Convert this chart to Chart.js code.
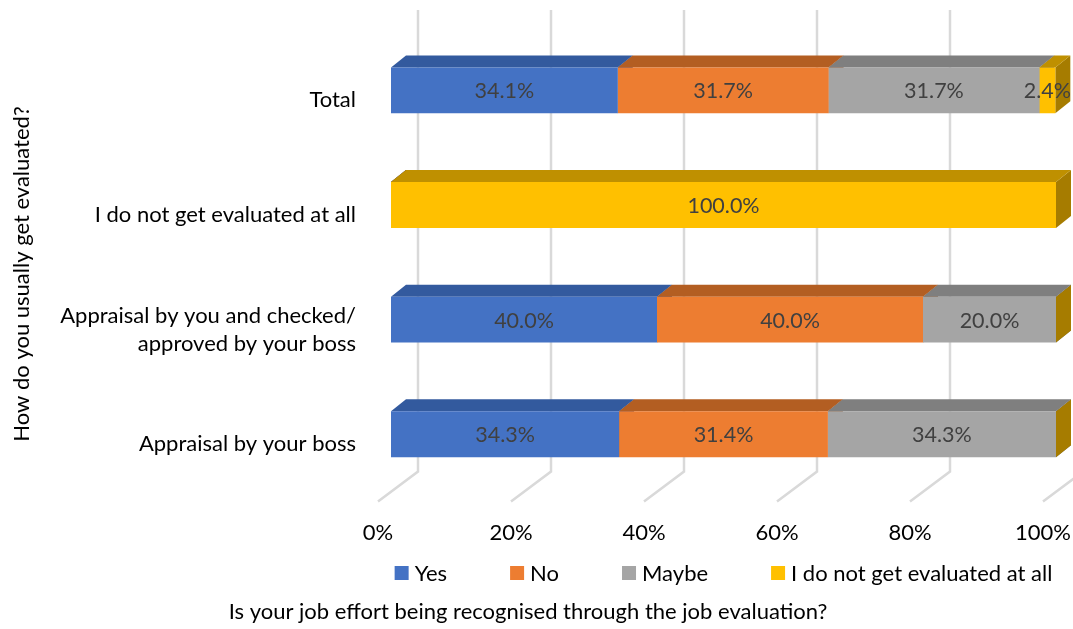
<!DOCTYPE html>
<html>
<head>
<meta charset="utf-8">
<title>Job evaluation survey</title>
<script src="https://cdn.jsdelivr.net/npm/chart.js@4.4.1/dist/chart.umd.min.js"></script>
<style>
  html, body { margin: 0; padding: 0; background: #fff; }
</style>
</head>
<body>
<canvas id="evalChart" width="1073" height="629"></canvas>
<script>
// categories, top to bottom
const categories = [
    'Total',
    'I do not get evaluated at all',
    ['Appraisal by you and checked/', 'approved by your boss'],
    'Appraisal by your boss'
];

// answers in percent, one array per series
const yesValues = [34.1, 0, 40.0, 34.3];
const noValues = [31.7, 0, 40.0, 31.4];
const maybeValues = [31.7, 0, 20.0, 34.3];
const notEvaluatedValues = [2.4, 100.0, 0, 0];

const seriesNames = ['Yes', 'No', 'Maybe', 'I do not get evaluated at all'];
const xTicks = [0, 20, 40, 60, 80, 100];

const FONT = "Lato, 'Liberation Sans', sans-serif";
const FONT_SIZE = 22;

// front / top / side shades for each series
const frontColors = ['#4472C4', '#ED7D31', '#A5A5A5', '#FFC000'];
const topColors = ['#335A9E', '#B35E22', '#7F7F7F', '#BF9000'];
const sideColors = ['#2E5190', '#A0541E', '#737373', '#A67C00'];

// 3d depth of the bars and of the back wall
const DX = 15, DY = -12;
const WALL_DX = 27, FLOOR_DX = -13;

function poly(ctx, pts, color) {
    ctx.beginPath();
    ctx.moveTo(pts[0][0], pts[0][1]);
    for (let i = 1; i < pts.length; i++) ctx.lineTo(pts[i][0], pts[i][1]);
    ctx.closePath();
    ctx.fillStyle = color;
    ctx.fill();
}

// back wall grid + bar tops/sides, drawn before the flat bar fronts
const depthPlugin = {
    id: 'depth',
    beforeDatasetsDraw(chart) {
        const ctx = chart.ctx;
        const xs = chart.scales.x;
        const area = chart.chartArea;

        ctx.save();
        ctx.strokeStyle = '#d9d9d9';
        ctx.lineWidth = 2.5;
        xTicks.forEach(v => {
            const p = xs.getPixelForValue(v);
            ctx.beginPath();
            ctx.moveTo(p + WALL_DX, area.top - 23);
            ctx.lineTo(p + WALL_DX, area.bottom - 20);
            ctx.lineTo(p + FLOOR_DX, area.bottom + 10);
            ctx.stroke();
        });

        const bars = [];
        chart.data.datasets.forEach((ds, i) => {
            chart.getDatasetMeta(i).data.forEach(el => {
                const b = el.getProps(['x', 'base', 'y', 'height'], true);
                bars.push({ i, x0: Math.min(b.x, b.base), x1: Math.max(b.x, b.base),
                    top: b.y - b.height / 2, bottom: b.y + b.height / 2 });
            });
        });

        bars.forEach(b => {
            poly(ctx, [[b.x1, b.top], [b.x1 + DX, b.top + DY], [b.x1 + DX, b.bottom + DY], [b.x1, b.bottom]], sideColors[b.i]);
        });
        bars.forEach(b => {
            if (b.x1 - b.x0 < 0.5) return;
            poly(ctx, [[b.x0, b.top], [b.x1, b.top], [b.x1 + DX, b.top + DY], [b.x0 + DX, b.top + DY]], topColors[b.i]);
        });
        ctx.restore();
    },

    // value labels on the bar fronts
    afterDatasetsDraw(chart) {
        const ctx = chart.ctx;
        ctx.save();
        ctx.font = '21.5px ' + FONT;
        ctx.fillStyle = '#404040';
        ctx.textAlign = 'center';
        ctx.textBaseline = 'middle';
        chart.data.datasets.forEach((ds, i) => {
            chart.getDatasetMeta(i).data.forEach((el, j) => {
                const v = ds.data[j];
                if (!v) return;
                const b = el.getProps(['x', 'base', 'y'], true);
                ctx.fillText(v.toFixed(1) + '%', (b.x + b.base) / 2, b.y + 1);
            });
        });
        ctx.restore();
    },

    afterDraw(chart) {
        const ctx = chart.ctx;
        const area = chart.chartArea;
        ctx.save();
        ctx.font = FONT_SIZE + 'px ' + FONT;
        ctx.fillStyle = '#000';

        // vertical axis question
        ctx.save();
        ctx.translate(22, 274);
        ctx.rotate(-Math.PI / 2);
        ctx.textAlign = 'center';
        ctx.textBaseline = 'middle';
        ctx.fillText('How do you usually get evaluated?', 0, 0);
        ctx.restore();

        // legend row between the axis labels and the axis question
        const box = 14, gap = 6, spacing = 63, y = 573;
        const widths = seriesNames.map(n => ctx.measureText(n).width);
        const total = widths.reduce((a, w) => a + box + gap + w, 0) + spacing * (seriesNames.length - 1);
        let x = (area.left + area.right) / 2 - total / 2;
        ctx.textBaseline = 'middle';
        ctx.textAlign = 'left';
        seriesNames.forEach((n, i) => {
            ctx.fillStyle = frontColors[i];
            ctx.fillRect(x, y - box / 2, box, box);
            ctx.fillStyle = '#000';
            ctx.fillText(n, x + box + gap, y + 1);
            x += box + gap + widths[i] + spacing;
        });
        ctx.restore();
    }
};

const seriesData = [yesValues, noValues, maybeValues, notEvaluatedValues];

new Chart(document.getElementById('evalChart'), {
    type: 'bar',
    data: {
        labels: categories,
        datasets: seriesNames.map((name, i) => ({
            label: name,
            data: seriesData[i],
            backgroundColor: frontColors[i],
            borderWidth: 0,
            categoryPercentage: 1,
            barPercentage: 0.4
        }))
    },
    options: {
        indexAxis: 'y',
        responsive: false,
        animation: false,
        layout: { padding: { top: 33, right: 17, left: 0, bottom: 0 } },
        plugins: {
            legend: { display: false },
            tooltip: { enabled: false },
            title: {
                display: true,
                position: 'bottom',
                text: 'Is your job effort being recognised through the job evaluation?',
                color: '#000',
                font: { family: FONT, size: FONT_SIZE, weight: 'normal' },
                padding: { top: 0, bottom: 4 }
            }
        },
        scales: {
            x: {
                stacked: true,
                min: 0,
                max: 100,
                grid: { display: false, drawTicks: false },
                border: { display: false },
                ticks: {
                    stepSize: 20,
                    callback: v => v + '%',
                    labelOffset: -13,
                    padding: 28,
                    color: '#000',
                    font: { family: FONT, size: FONT_SIZE }
                },
                afterFit(scale) {
                    scale.height = 107;
                    scale.paddingLeft = 0;
                    scale.paddingRight = 0;
                }
            },
            y: {
                stacked: true,
                grid: { display: false, drawTicks: false },
                border: { display: false },
                ticks: {
                    padding: 35,
                    labelOffset: 10,
                    color: '#000',
                    font: { family: FONT, size: FONT_SIZE, lineHeight: 1.27 }
                },
                afterFit(scale) {
                    scale.width = 391;
                    scale.paddingTop = 0;
                    scale.paddingBottom = 0;
                }
            }
        }
    },
    plugins: [depthPlugin]
});
</script>
</body>
</html>
